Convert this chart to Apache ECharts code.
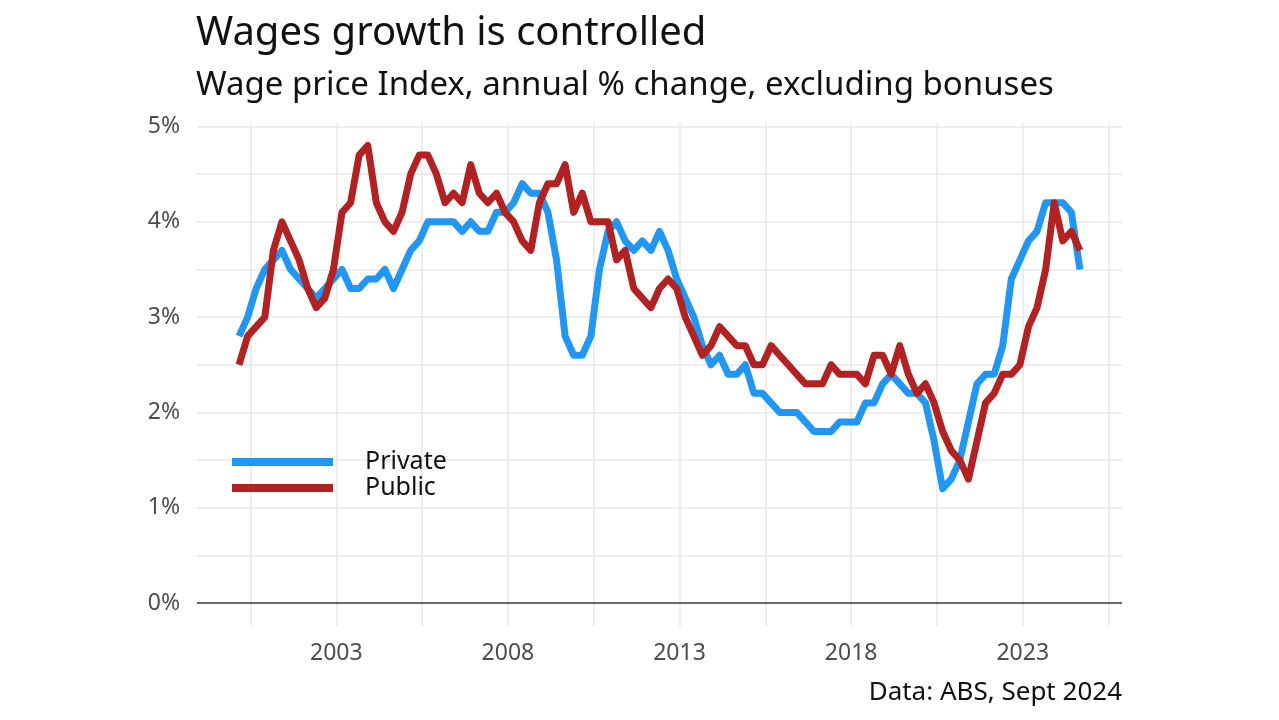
<!DOCTYPE html>
<html><head><meta charset="utf-8">
<script src="https://cdn.jsdelivr.net/npm/echarts@6/dist/echarts.min.js"></script>
<style>html,body{margin:0;padding:0;background:#fff}#c{width:1279px;height:720px}</style>
</head><body><div id="c"></div>
<script>
// First observation: March quarter 2000, quarterly to September quarter 2024
const startYear = 2000, startMonth = 3;

const privateWpi = [
  2.8, 3.0, 3.3, 3.5, 3.6, 3.7, 3.5, 3.4, 3.3, 3.2,
  3.3, 3.4, 3.5, 3.3, 3.3, 3.4, 3.4, 3.5, 3.3, 3.5,
  3.7, 3.8, 4.0, 4.0, 4.0, 4.0, 3.9, 4.0, 3.9, 3.9,
  4.1, 4.1, 4.2, 4.4, 4.3, 4.3, 4.1, 3.6, 2.8, 2.6,
  2.6, 2.8, 3.5, 3.9, 4.0, 3.8, 3.7, 3.8, 3.7, 3.9,
  3.7, 3.4, 3.2, 3.0, 2.7, 2.5, 2.6, 2.4, 2.4, 2.5,
  2.2, 2.2, 2.1, 2.0, 2.0, 2.0, 1.9, 1.8, 1.8, 1.8,
  1.9, 1.9, 1.9, 2.1, 2.1, 2.3, 2.4, 2.3, 2.2, 2.2,
  2.1, 1.7, 1.2, 1.3, 1.5, 1.9, 2.3, 2.4, 2.4, 2.7,
  3.4, 3.6, 3.8, 3.9, 4.2, 4.2, 4.2, 4.1, 3.5
];
const publicWpi = [
  2.5, 2.8, 2.9, 3.0, 3.7, 4.0, 3.8, 3.6, 3.3, 3.1,
  3.2, 3.5, 4.1, 4.2, 4.7, 4.8, 4.2, 4.0, 3.9, 4.1,
  4.5, 4.7, 4.7, 4.5, 4.2, 4.3, 4.2, 4.6, 4.3, 4.2,
  4.3, 4.1, 4.0, 3.8, 3.7, 4.2, 4.4, 4.4, 4.6, 4.1,
  4.3, 4.0, 4.0, 4.0, 3.6, 3.7, 3.3, 3.2, 3.1, 3.3,
  3.4, 3.3, 3.0, 2.8, 2.6, 2.7, 2.9, 2.8, 2.7, 2.7,
  2.5, 2.5, 2.7, 2.6, 2.5, 2.4, 2.3, 2.3, 2.3, 2.5,
  2.4, 2.4, 2.4, 2.3, 2.6, 2.6, 2.4, 2.7, 2.4, 2.2,
  2.3, 2.1, 1.8, 1.6, 1.5, 1.3, 1.7, 2.1, 2.2, 2.4,
  2.4, 2.5, 2.9, 3.1, 3.5, 4.2, 3.8, 3.9, 3.7
];
const seriesNames = ['Private', 'Public'];
const seriesColors = ['#2196F3', '#B22222'];
const xTicks = [2003, 2008, 2013, 2018, 2023];
const xMinorGrid = [2000.5, 2005.5, 2010.5, 2015.5, 2020.5, 2025.5];
const yTicks = [0, 1, 2, 3, 4, 5];
const yMinorGrid = [0.5, 1.5, 2.5, 3.5, 4.5];
const titleText = 'Wages growth is controlled';
const subtitleText = 'Wage price Index, annual % change, excluding bonuses';
const captionText = 'Data: ABS, Sept 2024';

const FONT = "'Noto Sans', 'Open Sans', sans-serif";
const qDate = i => startYear + (startMonth - 1 + 3 * i) / 12;
const privData = privateWpi.map((v, i) => [qDate(i), v]);
const pubData = publicWpi.map((v, i) => [qDate(i), v]);

const x0 = qDate(0), x1 = qDate(privateWpi.length - 1);
const xSpan = x1 - x0;
const yLo = 0, yHi = 4.8, ySpan = yHi - yLo;

const gridStyle = { color: '#e9e9e9', width: 1.6, type: 'solid' };
const gridLines = [];
xTicks.concat(xMinorGrid).forEach(v => gridLines.push({ xAxis: v, lineStyle: gridStyle }));
yTicks.slice(1).concat(yMinorGrid).forEach(v => gridLines.push({ yAxis: v, lineStyle: gridStyle }));
gridLines.push({ yAxis: 0, lineStyle: { color: '#3a3a3a', width: 1.6, type: 'solid' } });

const chart = echarts.init(document.getElementById('c'), null, { renderer: 'canvas' });
chart.setOption({
  animation: false,
  backgroundColor: '#ffffff',
  textStyle: { fontFamily: FONT },
  title: [
    { text: titleText, left: 196, top: 14, padding: 0,
      textStyle: { fontFamily: FONT, fontSize: 40, fontWeight: 'normal', color: '#111' } },
    { text: subtitleText, left: 196, top: 69, padding: 0,
      textStyle: { fontFamily: FONT, fontSize: 33, fontWeight: 'normal', color: '#111' } },
    { text: captionText, right: 157, top: 680, padding: 0,
      textStyle: { fontFamily: FONT, fontSize: 26, fontWeight: 'normal', color: '#111' } }
  ],
  grid: { left: 197, top: 122.7, width: 925, height: 503.2, containLabel: false },
  legend: {
    data: seriesNames.map((n, k) => ({ name: n, itemStyle: { color: seriesColors[k], borderWidth: 0 } })),
    orient: 'vertical',
    left: 232, top: 449, padding: 0, z: 20,
    itemWidth: 101, itemHeight: 8, itemGap: 0,
    icon: 'rect',
    itemStyle: { borderWidth: 0 },
    textStyle: { fontFamily: FONT, fontSize: 25, color: '#111', lineHeight: 26, padding: [0, 0, 0, 27] }
  },
  xAxis: {
    type: 'value',
    min: x0 - 0.05 * xSpan, max: x1 + 0.05 * xSpan,
    axisLine: { show: false }, axisTick: { show: false }, splitLine: { show: false },
    axisLabel: { customValues: xTicks, formatter: v => String(Math.round(v)),
      fontFamily: FONT, fontSize: 23, color: '#4d4d4d', margin: 16 }
  },
  yAxis: {
    type: 'value',
    min: yLo - 0.05 * ySpan, max: yHi + 0.05 * ySpan,
    axisLine: { show: false }, axisTick: { show: false }, splitLine: { show: false },
    axisLabel: { customValues: yTicks, formatter: v => Math.round(v) + '%',
      fontFamily: FONT, fontSize: 23, color: '#4d4d4d', margin: 17 }
  },
  series: [
    { name: 'grid', type: 'line', data: [], z: 0, silent: true,
      markLine: { z: 0, silent: true, symbol: ['none', 'none'], label: { show: false }, animation: false, data: gridLines } },
    { name: seriesNames[0], type: 'line', data: privData, showSymbol: false, symbol: 'none', z: 3,
      itemStyle: { color: seriesColors[0] },
      lineStyle: { width: 7, color: seriesColors[0], cap: 'butt', join: 'round' } },
    { name: seriesNames[1], type: 'line', data: pubData, showSymbol: false, symbol: 'none', z: 4,
      itemStyle: { color: seriesColors[1] },
      lineStyle: { width: 7, color: seriesColors[1], cap: 'butt', join: 'round' } }
  ]
});
</script></body></html>
